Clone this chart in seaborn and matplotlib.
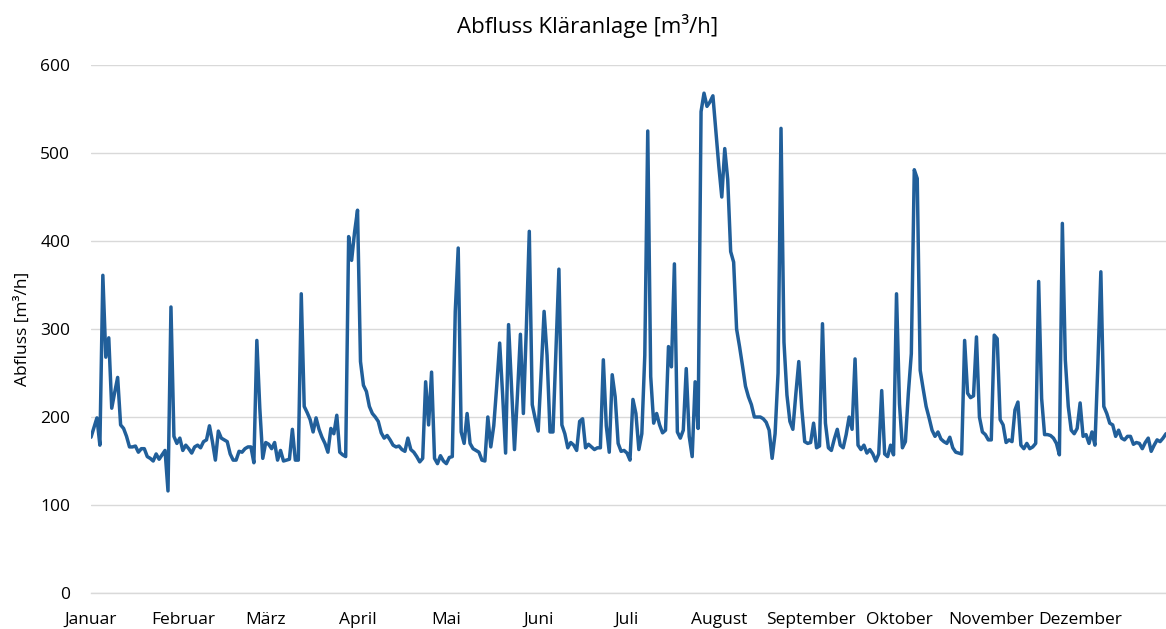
import numpy as np
import pandas as pd
import matplotlib
matplotlib.use("Agg")
import matplotlib.pyplot as plt
import seaborn as sns

# Daily effluent flow of the treatment plant [m³/h], one list per month
jan = [177, 188, 199, 168, 361, 268, 290, 210, 228, 245, 191, 187, 178, 166, 166, 167,
       160, 164, 164, 155, 153, 150, 158, 152, 157, 162, 116, 325, 178, 170, 176]
feb = [162, 168, 164, 159, 166, 168, 165, 172, 174, 190, 172, 151, 184, 176, 174, 172,
       158, 151, 151, 161, 160, 164, 166, 166, 148, 287, 210, 153]
mar = [171, 169, 164, 171, 151, 162, 150, 151, 152, 186, 151, 151, 340, 212, 205, 197,
       183, 199, 186, 177, 170, 160, 187, 181, 202, 160, 157, 155, 405, 378, 410]
apr = [435, 263, 236, 229, 212, 204, 200, 195, 182, 176, 179, 174, 168, 166, 167, 163,
       161, 176, 163, 160, 155, 149, 153, 240, 191, 251, 153, 147, 156, 150]
mai = [147, 154, 155, 320, 392, 183, 170, 204, 170, 164, 162, 160, 151, 150, 200, 166,
       190, 235, 284, 225, 159, 305, 235, 163, 225, 294, 204, 300, 411, 214, 198]
jun = [184, 250, 320, 270, 183, 183, 275, 368, 191, 181, 165, 171, 168, 162, 195, 198,
       165, 169, 166, 163, 165, 165, 265, 190, 160, 248, 223, 170, 161, 162]
jul = [159, 151, 220, 204, 163, 181, 270, 525, 246, 193, 204, 191, 182, 185, 280, 257,
       374, 183, 176, 185, 255, 178, 155, 240, 187, 547, 568, 553, 558, 565, 525]
aug = [485, 450, 505, 470, 388, 376, 300, 280, 258, 235, 223, 214, 200, 200, 200, 198,
       194, 185, 153, 181, 250, 528, 285, 225, 195, 186, 226, 263, 210, 172, 170]
sep = [171, 193, 165, 167, 306, 193, 165, 162, 175, 186, 168, 165, 180, 200, 186, 266,
       168, 163, 168, 159, 163, 158, 150, 158, 230, 158, 155, 168, 157, 340]
okt = [215, 165, 172, 227, 272, 481, 471, 253, 232, 212, 199, 185, 178, 183, 175, 172,
       170, 177, 165, 160, 159, 158, 287, 227, 222, 224, 291, 200, 183, 180, 174]
nov = [174, 293, 289, 197, 191, 171, 174, 172, 208, 217, 168, 164, 170, 164, 166, 170,
       354, 221, 180, 180, 179, 176, 170, 157, 420, 265, 212, 185, 181, 187]
dez = [216, 178, 180, 170, 183, 168, 260, 365, 212, 204, 193, 191, 178, 185, 176, 174,
       178, 178, 169, 171, 170, 164, 171, 176, 161, 168, 174, 172, 176, 181, 180]

month_names = ["Januar", "Februar", "März", "April", "Mai", "Juni", "Juli",
               "August", "September", "Oktober", "November", "Dezember"]
months = [jan, feb, mar, apr, mai, jun, jul, aug, sep, okt, nov, dez]

flow = np.concatenate(months)
df = pd.DataFrame({"tag": np.arange(len(flow)), "abfluss": flow})
month_starts = np.concatenate([[0], np.cumsum([len(m) for m in months])[:-1]])

sns.set_theme(style="white")
plt.rcParams["font.family"] = ["Open Sans", "DejaVu Sans"]

fig = plt.figure(figsize=(11.66, 6.29), dpi=100)
ax = fig.add_axes([91 / 1166, 36 / 629, 1075 / 1166, 528 / 629])

sns.lineplot(data=df, x="tag", y="abfluss", ax=ax, color="#215F9A",
             linewidth=2.5, solid_joinstyle="round", solid_capstyle="round")

ax.set_xlim(0, 363)
ax.set_ylim(0, 600)
ax.set_yticks(np.arange(0, 601, 100))
ax.set_xticks(month_starts)
ax.set_xticklabels(month_names)

ax.grid(axis="y", color="#D9D9D9", linewidth=1.0)
ax.grid(axis="x", visible=False)
ax.set_axisbelow(True)
for side in ["top", "right", "left"]:
    ax.spines[side].set_visible(False)
ax.spines["bottom"].set_color("#D9D9D9")
ax.spines["bottom"].set_linewidth(1.0)

ax.tick_params(axis="y", length=0, pad=15, labelsize=12.5, labelcolor="#000000")
ax.tick_params(axis="x", length=0, pad=13.5, labelsize=12.5, labelcolor="#000000")

ax.set_xlabel("")
ax.set_ylabel("Abfluss [m³/h]", fontsize=12.5, color="#000000")
ax.yaxis.set_label_coords(-60 / 1075, 0.5)
fig.text(588 / 1166, 1 - 26 / 629, "Abfluss Kläranlage [m³/h]", ha="center",
         va="center", fontsize=16, color="#000000")

fig.savefig("out.png", dpi=100)
